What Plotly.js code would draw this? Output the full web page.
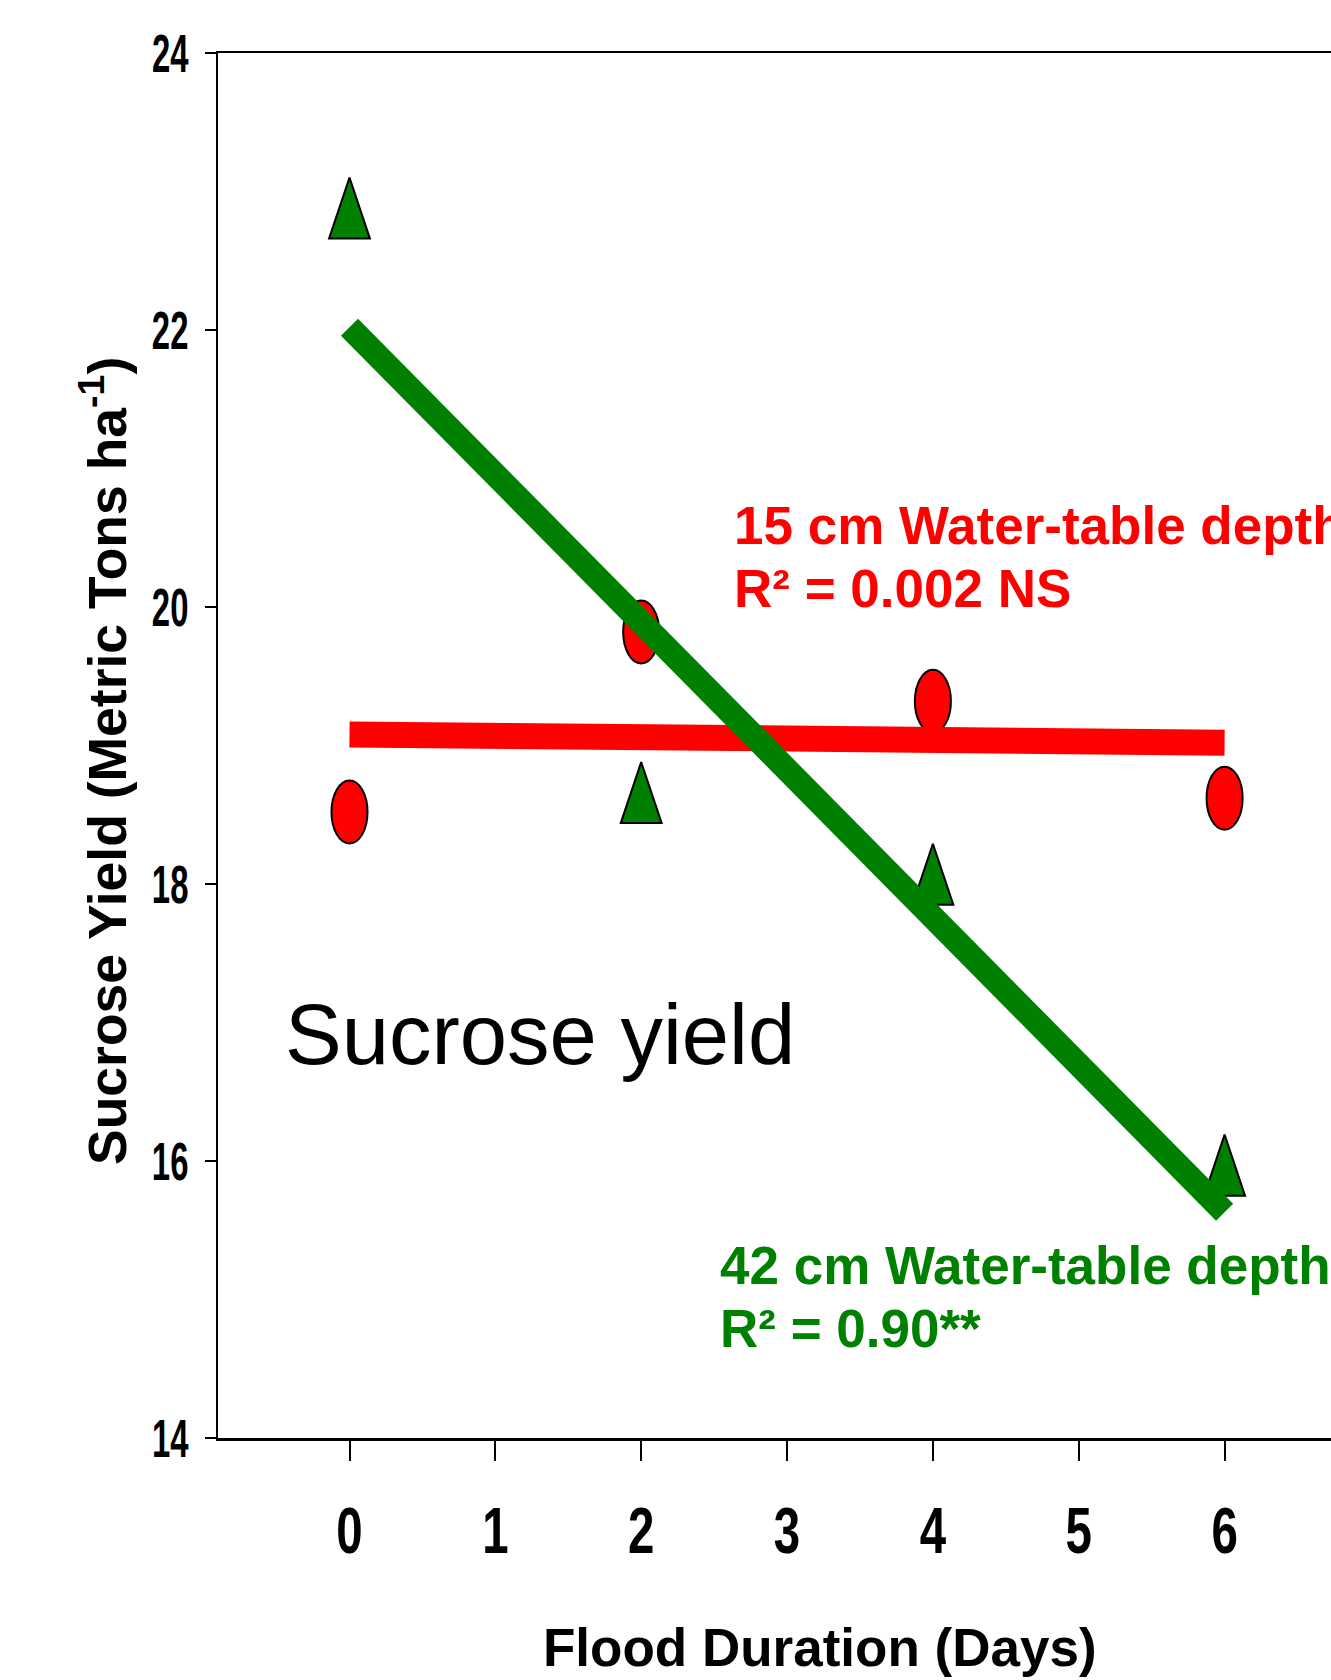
<!DOCTYPE html>
<html><head><meta charset="utf-8">
<script src="https://cdn.plot.ly/plotly-3.0.1.min.js"></script>
<style>html,body{margin:0;padding:0;background:#fff}</style>
</head><body>
<div id="chart" style="width:1331px;height:1680px"></div>
<script>
// ---- data ----
const floodDays = [0, 2, 4, 6];
const yield15cm = [18.52, 19.82, 19.32, 18.62];
const yield42cm = [22.88, 18.66, 18.07, 15.97];
const fitDays = [0, 6];
const fit15cm = [19.08, 19.02];
const fit42cm = [22.02, 15.63];
const xTickVals = [0, 1, 2, 3, 4, 5, 6];
const yTickVals = [14, 16, 18, 20, 22, 24];
const xTitle = 'Flood Duration (Days)';
const yTitle = 'Sucrose Yield (Metric Tons ha<sup>-1</sup>)';
const label15 = ['15 cm Water-table depth', 'R\u00b2 = 0.002 NS'];
const label42 = ['42 cm Water-table depth', 'R\u00b2 = 0.90**'];
const panelLabel = 'Sucrose yield';

const RED = '#ff0000', GREEN = '#008000';
const sans = '"Liberation Sans", Arial, sans-serif';

const data = [
  {x: floodDays, y: yield15cm, type: 'scatter', mode: 'markers', name: '15 cm',
   marker: {symbol: 'circle', size: 35, color: RED, line: {color: 'black', width: 2}}},
  {x: floodDays, y: yield42cm, type: 'scatter', mode: 'markers', name: '42 cm',
   marker: {symbol: 'triangle-up', size: 30, color: GREEN, line: {color: 'black', width: 2}}},
  {x: fitDays, y: fit15cm, type: 'scatter', mode: 'lines', name: '15 cm fit',
   line: {color: RED, width: 26}},
  {x: fitDays, y: fit42cm, type: 'scatter', mode: 'lines', name: '42 cm fit',
   line: {color: GREEN, width: 24}}
];

function ann(x, y, text, color, size, weight, extra) {
  return Object.assign({x: x, y: y, xref: 'x', yref: 'y', text: text, showarrow: false,
    xanchor: 'left', yanchor: 'middle',
    font: {family: sans, size: size, color: color, weight: weight}}, extra || {});
}

const layout = {
  width: 1331, height: 1680,
  margin: {l: 218, r: 0, t: 53, b: 242},
  paper_bgcolor: 'white', plot_bgcolor: 'white',
  showlegend: false,
  xaxis: {range: [-0.9016, 6.7296], tickvals: xTickVals, ticks: 'outside', ticklen: 20,
    tickwidth: 2, tickcolor: 'black', showline: true, linecolor: 'black', linewidth: 2.5,
    mirror: true, showgrid: false, zeroline: false, ticklabelstandoff: 15,
    tickfont: {family: sans, size: 65, color: 'black', weight: 'bold'}},
  yaxis: {range: [14, 24], tickvals: yTickVals, ticks: 'outside', ticklen: 11,
    tickwidth: 2, tickcolor: 'black', showline: true, linecolor: 'black', linewidth: 2,
    showgrid: false, zeroline: false, ticklabelstandoff: 6,
    tickfont: {family: sans, size: 53, color: 'black', weight: 'bold'}},
  annotations: [
    {xref: 'paper', yref: 'paper', x: 0.5409, y: -0.1513, text: xTitle, showarrow: false,
     xanchor: 'center', yanchor: 'middle',
     font: {family: sans, size: 53, color: 'black', weight: 'bold'}},
    {xref: 'paper', yref: 'paper', x: -0.1033, y: 0.4888, text: yTitle, showarrow: false,
     textangle: -90, xanchor: 'center', yanchor: 'middle',
     font: {family: sans, size: 53.5, color: 'black', weight: 'bold'}},
    ann(2.62, 20.585, label15[0], RED, 53, 'bold'),
    ann(2.62, 20.134, label15[1], RED, 53, 'bold'),
    ann(2.53, 15.242, label42[0], GREEN, 53, 'bold'),
    ann(2.53, 14.794, label42[1], GREEN, 53, 'bold'),
    ann(-0.456, 16.913, panelLabel, 'black', 85, 'normal')
  ]
};

// condense tick glyphs (the reference uses a narrow, tall face)
function condenseText(sel, sx, sy, anchor) {
  document.querySelectorAll(sel).forEach(function (t) {
    var bb = t.getBBox();
    var cy = bb.y + bb.height / 2;
    var cx = anchor === 'end' ? bb.x + bb.width : bb.x + bb.width / 2;
    var tr = t.getAttribute('transform') || '';
    t.setAttribute('transform', tr + ' translate(' + cx + ',' + cy + ') scale(' + sx + ',' + sy +
      ') translate(' + (-cx) + ',' + (-cy) + ')');
  });
}
// reshape marker glyphs to the tall ellipses / narrow triangles of the reference
function reshapeMarkers(traceIdx, sx, sy, dy) {
  var traces = document.querySelectorAll('.scatterlayer .trace');
  var tr = traces[traceIdx];
  if (!tr) return;
  tr.querySelectorAll('path.point').forEach(function (p) {
    var t = p.getAttribute('transform') || '';
    p.setAttribute('transform', t + ' scale(' + sx + ',' + sy + ') translate(0,' + dy + ')');
    p.style.vectorEffect = 'non-scaling-stroke';
  });
}

Plotly.newPlot('chart', data, layout, {staticPlot: true}).then(function () {
  condenseText('.xtick text', 0.73, 1, 'middle');
  condenseText('.ytick text', 0.62, 1, 'end');
  reshapeMarkers(0, 1.03, 1.8, 0);
  reshapeMarkers(1, 1.18, 2.71, 3.75);
});
</script>
</body></html>
